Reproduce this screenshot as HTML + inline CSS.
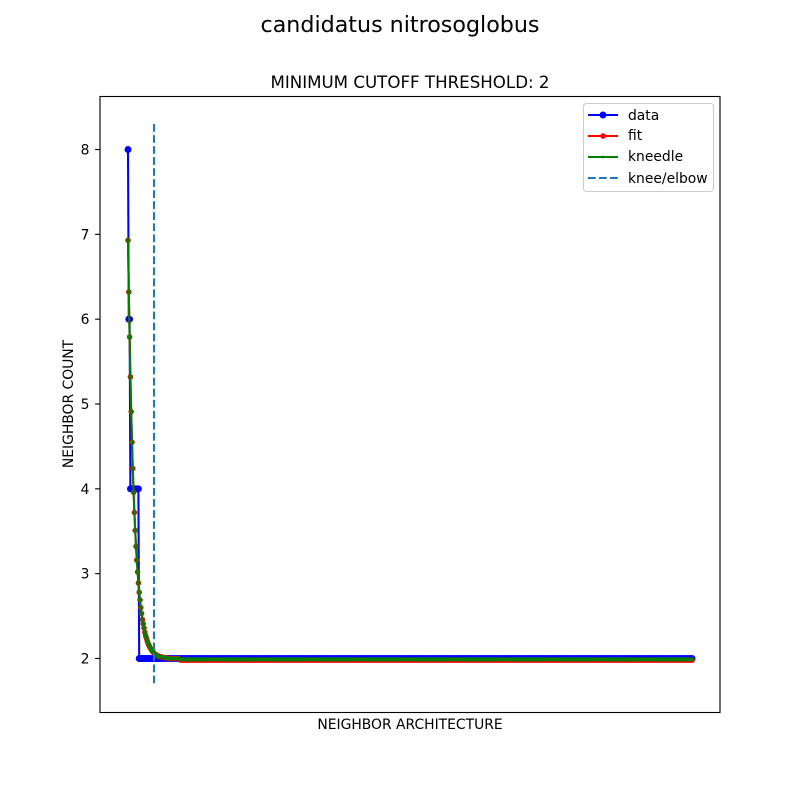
<!DOCTYPE html>
<html>
<head>
<meta charset="utf-8">
<style>
html,body{margin:0;padding:0;background:#fff;}
svg{display:block;}
text{font-family:"DejaVu Sans","Liberation Sans",sans-serif;fill:#000;}
</style>
</head>
<body>
<svg id="chart" xmlns="http://www.w3.org/2000/svg" width="800" height="800" viewBox="0 0 800 800">
<rect x="0" y="0" width="800" height="800" fill="#fff"/>
<text x="400" y="32" font-size="22.2" text-anchor="middle">candidatus nitrosoglobus</text>
<text x="410" y="88" font-size="16.67" text-anchor="middle">MINIMUM CUTOFF THRESHOLD: 2</text>
<text x="410" y="729" font-size="13.89" text-anchor="middle">NEIGHBOR ARCHITECTURE</text>
<text x="0" y="0" font-size="13.89" text-anchor="middle" transform="translate(73,404) rotate(-90)">NEIGHBOR COUNT</text>
<g id="ticks"></g>
<g id="marks"></g>
<rect x="100" y="96.5" width="620" height="616" fill="none" stroke="#000" stroke-width="1.11"/>
<g>
<rect x="583.5" y="103.5" width="130" height="88" rx="3" ry="3" fill="#fff" fill-opacity="0.8" stroke="#ccc" stroke-width="1.11"/>
<g>
<line x1="588" y1="115" x2="618" y2="115" stroke="#0000ff" stroke-width="2.08"/>
<circle cx="603" cy="115" r="3.47" fill="#0000ff"/>
<text x="628" y="120" font-size="13.89">data</text>
</g>
<g>
<line x1="588" y1="136" x2="618" y2="136" stroke="#ff0000" stroke-width="2.08"/>
<circle cx="603" cy="136" r="2.78" fill="#ff0000"/>
<text x="628" y="140" font-size="13.89">fit</text>
</g>
<g>
<line x1="588" y1="157" x2="618" y2="157" stroke="#008000" stroke-width="2.08"/>
<circle cx="603" cy="157" r="1.4" fill="#008000"/>
<text x="628" y="161" font-size="13.89">kneedle</text>
</g>
<g>
<line x1="588" y1="178" x2="618" y2="178" stroke="#1f77b4" stroke-width="2.08" stroke-dasharray="7.7 3.33"/>
<text x="628" y="183" font-size="13.89">knee/elbow</text>
</g>
</g>
</svg>
<script>
const yTickLabels = [2, 3, 4, 5, 6, 7, 8];
const kneeIndex = 32.5;
const kneeLineRange = [8.3, 1.68];
const neighborIndex = [
0,1,2,3,4,5,6,7,8,9,10,11,12,13,14,15,16,17,18,19,
20,21,22,23,24,25,26,27,28,29,30,31,32,33,34,35,36,37,38,39,
42,45,48,51,54,57,60,63,66,69,72,75,78,81,84,87,90,93,96,99,
102,105,108,111,114,117,120,123,126,129,132,135,138,141,144,147,150,153,156,159,
162,165,168,171,174,177,180,183,186,189,192,195,198,201,204,207,210,213,216,219,
222,225,228,231,234,237,240,243,246,249,252,255,258,261,264,267,270,273,276,279,
282,285,288,291,294,297,300,303,306,309,312,315,318,321,324,327,330,333,336,339,
342,345,348,351,354,357,360,363,366,369,372,375,378,381,384,387,390,393,396,399,
402,405,408,411,414,417,420,423,426,429,432,435,438,441,444,447,450,453,456,459,
462,465,468,471,474,477,480,483,486,489,492,495,498,501,504,507,510,513,516,519,
522,525,528,531,534,537,540,543,546,549,552,555,558,561,564,567,570,573,576,579,
582,585,588,591,594,597,600,603,606,609,612,615,618,621,624,627,630,633,636,639,
642,645,648,651,654,657,660,663,666,669,672,675,678,681,684,687,690,693,696,699,
702,705
];
const dataValues = [
8,6,6,4,4,4,4,4,4,4,4,4,4,4,2,2,2,2,2,2,
2,2,2,2,2,2,2,2,2,2,2,2,2,2,2,2,2,2,2,2,
2,2,2,2,2,2,2,2,2,2,2,2,2,2,2,2,2,2,2,2,
2,2,2,2,2,2,2,2,2,2,2,2,2,2,2,2,2,2,2,2,
2,2,2,2,2,2,2,2,2,2,2,2,2,2,2,2,2,2,2,2,
2,2,2,2,2,2,2,2,2,2,2,2,2,2,2,2,2,2,2,2,
2,2,2,2,2,2,2,2,2,2,2,2,2,2,2,2,2,2,2,2,
2,2,2,2,2,2,2,2,2,2,2,2,2,2,2,2,2,2,2,2,
2,2,2,2,2,2,2,2,2,2,2,2,2,2,2,2,2,2,2,2,
2,2,2,2,2,2,2,2,2,2,2,2,2,2,2,2,2,2,2,2,
2,2,2,2,2,2,2,2,2,2,2,2,2,2,2,2,2,2,2,2,
2,2,2,2,2,2,2,2,2,2,2,2,2,2,2,2,2,2,2,2,
2,2,2,2,2,2,2,2,2,2,2,2,2,2,2,2,2,2,2,2,
2,2
];
const fitValues = [
6.93,6.32,5.79,5.32,4.91,4.55,4.24,3.96,3.72,3.51,3.32,3.16,3.02,2.89,2.78,2.69,2.60,2.53,2.46,2.41,
2.36,2.31,2.27,2.24,2.21,2.18,2.16,2.14,2.12,2.11,2.09,2.08,2.07,2.06,2.05,2.04,2.04,2.03,2.03,2.02,
2.02,2.01,2.01,2.00,2.00,2.00,2.00,2.00,1.98,1.98,1.98,1.98,1.98,1.98,1.98,1.98,1.98,1.98,1.98,1.98,
1.98,1.98,1.98,1.98,1.98,1.98,1.98,1.98,1.98,1.98,1.98,1.98,1.98,1.98,1.98,1.98,1.98,1.98,1.98,1.98,
1.98,1.98,1.98,1.98,1.98,1.98,1.98,1.98,1.98,1.98,1.98,1.98,1.98,1.98,1.98,1.98,1.98,1.98,1.98,1.98,
1.98,1.98,1.98,1.98,1.98,1.98,1.98,1.98,1.98,1.98,1.98,1.98,1.98,1.98,1.98,1.98,1.98,1.98,1.98,1.98,
1.98,1.98,1.98,1.98,1.98,1.98,1.98,1.98,1.98,1.98,1.98,1.98,1.98,1.98,1.98,1.98,1.98,1.98,1.98,1.98,
1.98,1.98,1.98,1.98,1.98,1.98,1.98,1.98,1.98,1.98,1.98,1.98,1.98,1.98,1.98,1.98,1.98,1.98,1.98,1.98,
1.98,1.98,1.98,1.98,1.98,1.98,1.98,1.98,1.98,1.98,1.98,1.98,1.98,1.98,1.98,1.98,1.98,1.98,1.98,1.98,
1.98,1.98,1.98,1.98,1.98,1.98,1.98,1.98,1.98,1.98,1.98,1.98,1.98,1.98,1.98,1.98,1.98,1.98,1.98,1.98,
1.98,1.98,1.98,1.98,1.98,1.98,1.98,1.98,1.98,1.98,1.98,1.98,1.98,1.98,1.98,1.98,1.98,1.98,1.98,1.98,
1.98,1.98,1.98,1.98,1.98,1.98,1.98,1.98,1.98,1.98,1.98,1.98,1.98,1.98,1.98,1.98,1.98,1.98,1.98,1.98,
1.98,1.98,1.98,1.98,1.98,1.98,1.98,1.98,1.98,1.98,1.98,1.98,1.98,1.98,1.98,1.98,1.98,1.98,1.98,1.98,
1.98,1.98
];
const kneedleValues = [
6.93,6.32,5.79,5.32,4.91,4.55,4.24,3.96,3.72,3.51,3.32,3.16,3.02,2.89,2.78,2.69,2.60,2.53,2.46,2.41,
2.36,2.31,2.27,2.24,2.21,2.18,2.16,2.14,2.12,2.11,2.09,2.08,2.07,2.06,2.05,2.04,2.04,2.03,2.03,2.02,
2.02,2.01,2.01,2.00,2.00,2.00,2.00,2.00,1.99,1.99,1.99,1.99,1.99,1.99,1.99,1.99,1.99,1.99,1.99,1.99,
1.99,1.99,1.99,1.99,1.99,1.99,1.99,1.99,1.99,1.99,1.99,1.99,1.99,1.99,1.99,1.99,1.99,1.99,1.99,1.99,
1.99,1.99,1.99,1.99,1.99,1.99,1.99,1.99,1.99,1.99,1.99,1.99,1.99,1.99,1.99,1.99,1.99,1.99,1.99,1.99,
1.99,1.99,1.99,1.99,1.99,1.99,1.99,1.99,1.99,1.99,1.99,1.99,1.99,1.99,1.99,1.99,1.99,1.99,1.99,1.99,
1.99,1.99,1.99,1.99,1.99,1.99,1.99,1.99,1.99,1.99,1.99,1.99,1.99,1.99,1.99,1.99,1.99,1.99,1.99,1.99,
1.99,1.99,1.99,1.99,1.99,1.99,1.99,1.99,1.99,1.99,1.99,1.99,1.99,1.99,1.99,1.99,1.99,1.99,1.99,1.99,
1.99,1.99,1.99,1.99,1.99,1.99,1.99,1.99,1.99,1.99,1.99,1.99,1.99,1.99,1.99,1.99,1.99,1.99,1.99,1.99,
1.99,1.99,1.99,1.99,1.99,1.99,1.99,1.99,1.99,1.99,1.99,1.99,1.99,1.99,1.99,1.99,1.99,1.99,1.99,1.99,
1.99,1.99,1.99,1.99,1.99,1.99,1.99,1.99,1.99,1.99,1.99,1.99,1.99,1.99,1.99,1.99,1.99,1.99,1.99,1.99,
1.99,1.99,1.99,1.99,1.99,1.99,1.99,1.99,1.99,1.99,1.99,1.99,1.99,1.99,1.99,1.99,1.99,1.99,1.99,1.99,
1.99,1.99,1.99,1.99,1.99,1.99,1.99,1.99,1.99,1.99,1.99,1.99,1.99,1.99,1.99,1.99,1.99,1.99,1.99,1.99,
1.99,1.99
];

const NS = 'http://www.w3.org/2000/svg';
function xScale(i) { return 128 + i * 0.8; }
function yScale(v) { return 658.5 - (v - 2) * 84.83; }

const ticksGroup = document.getElementById('ticks');
yTickLabels.forEach(function (label) {
  const y = yScale(label);
  const tick = document.createElementNS(NS, 'line');
  
  
  tick.setAttribute('x1', 95.1);
  tick.setAttribute('x2', 100);
  tick.setAttribute('y1', y);
  tick.setAttribute('y2', y);
  tick.setAttribute('stroke', '#000');
  tick.setAttribute('stroke-width', 1.11);
  ticksGroup.appendChild(tick);
  const text = document.createElementNS(NS, 'text');
  
  
  text.setAttribute('x', 89.5);
  text.setAttribute('y', y + 5);
  text.setAttribute('font-size', 13.89);
  text.setAttribute('text-anchor', 'end');
  text.textContent = String(label);
  ticksGroup.appendChild(text);
});

const marksGroup = document.getElementById('marks');
function drawSeries(values, color, radius, seriesName) {
  const group = document.createElementNS(NS, 'g');
  
  
  const line = document.createElementNS(NS, 'polyline');
  
  
  line.setAttribute('points', values.map(function (v, k) {
    return xScale(neighborIndex[k]).toFixed(2) + ',' + yScale(v).toFixed(2);
  }).join(' '));
  line.setAttribute('fill', 'none');
  line.setAttribute('stroke', color);
  line.setAttribute('stroke-width', 2.08);
  line.setAttribute('stroke-linejoin', 'round');
  group.appendChild(line);
  values.forEach(function (v, k) {
    const dot = document.createElementNS(NS, 'circle');
    
    
    dot.setAttribute('cx', xScale(neighborIndex[k]).toFixed(2));
    dot.setAttribute('cy', yScale(v).toFixed(2));
    dot.setAttribute('r', radius);
    dot.setAttribute('fill', color);
    group.appendChild(dot);
  });
  marksGroup.appendChild(group);
}
drawSeries(dataValues, '#0000ff', 3.47, 'data-series');
drawSeries(fitValues, '#ff0000', 2.78, 'fit-series');
drawSeries(kneedleValues, '#008000', 2.1, 'kneedle-series');

const kneeLine = document.createElementNS(NS, 'line');


kneeLine.setAttribute('x1', xScale(kneeIndex));
kneeLine.setAttribute('x2', xScale(kneeIndex));
kneeLine.setAttribute('y1', yScale(kneeLineRange[0]));
kneeLine.setAttribute('y2', yScale(kneeLineRange[1]));
kneeLine.setAttribute('stroke', '#1f77b4');
kneeLine.setAttribute('stroke-width', 2.08);
kneeLine.setAttribute('stroke-dasharray', '7.7 3.33');
marksGroup.appendChild(kneeLine);
</script>
</body>
</html>
